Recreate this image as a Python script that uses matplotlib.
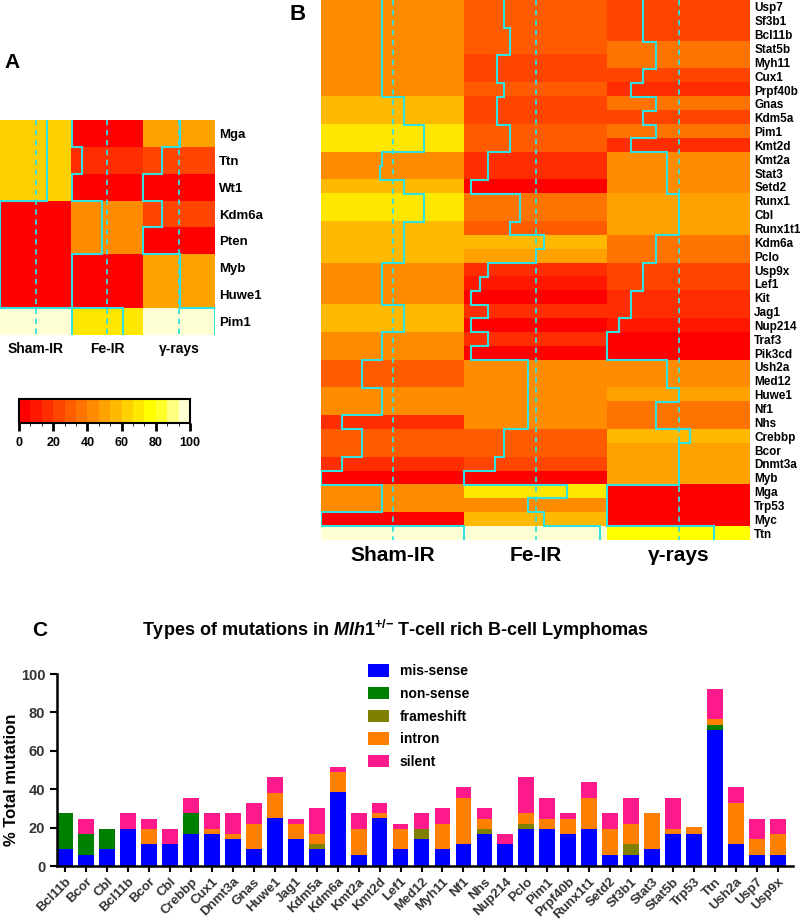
import numpy as np
import matplotlib
matplotlib.use('Agg')
import matplotlib.pyplot as plt
from matplotlib.colors import ListedColormap, BoundaryNorm, hsv_to_rgb
from matplotlib.cm import ScalarMappable
from matplotlib.patches import Patch

plt.rcParams['font.family'] = ['Liberation Sans', 'DejaVu Sans']
plt.rcParams['font.weight'] = 'bold'
plt.rcParams['mathtext.fontset'] = 'custom'
plt.rcParams['mathtext.rm'] = 'Liberation Sans:bold'
plt.rcParams['mathtext.it'] = 'Liberation Sans:italic:bold'
plt.rcParams['mathtext.bf'] = 'Liberation Sans:bold'

# ---- data ----
groups = ['Sham-IR', 'Fe-IR', 'γ-rays']

genes_a = ['Mga', 'Ttn', 'Wt1', 'Kdm6a', 'Pten', 'Myb', 'Huwe1', 'Pim1']
sham_a = [66, 66, 66, 0, 0, 0, 0, 100]
fe_a = [0, 15, 0, 43, 43, 0, 0, 72]
gamma_a = [51, 26, 0, 26, 0, 51, 51, 100]

genes_b = ['Usp7', 'Sf3b1', 'Bcl11b', 'Stat5b', 'Myh11', 'Cux1', 'Prpf40b',
           'Gnas', 'Kdm5a', 'Pim1', 'Kmt2d', 'Kmt2a', 'Stat3', 'Setd2',
           'Runx1', 'Cbl', 'Runx1t1', 'Kdm6a', 'Pclo', 'Usp9x', 'Lef1', 'Kit',
           'Jag1', 'Nup214', 'Traf3', 'Pik3cd', 'Ush2a', 'Med12', 'Huwe1',
           'Nf1', 'Nhs', 'Crebbp', 'Bcor', 'Dnmt3a', 'Myb', 'Mga', 'Trp53',
           'Myc', 'Ttn']
sham_b = [43, 43, 43, 43, 43, 43, 43, 58, 58, 72, 72, 43, 41, 58, 72, 72, 58,
          58, 58, 43, 43, 43, 58, 58, 43, 43, 29, 29, 43, 43, 15, 29, 29, 15,
          0, 43, 43, 0, 100]
fe_b = [28, 28, 32, 32, 23, 23, 28, 23, 23, 32, 32, 17, 17, 5, 39, 39, 32,
        56, 50, 17, 11, 5, 17, 5, 17, 5, 45, 45, 45, 45, 45, 28, 28, 22, 0,
        72, 45, 56, 95]
gamma_b = [25, 25, 25, 34, 34, 25, 16.5, 34, 25, 34, 16.5, 42, 42, 42, 50,
           50, 50, 34, 34, 25, 25, 16.5, 16.5, 8.4, 0, 0, 42, 42, 50, 34, 34,
           58, 50, 50, 50, 0, 0, 0, 75]

genes_c = ['Bcl11b', 'Bcor', 'Cbl', 'Bcl11b', 'Bcor', 'Cbl', 'Crebbp', 'Cux1',
           'Dnmt3a', 'Gnas', 'Huwe1', 'Jag1', 'Kdm5a', 'Kdm6a', 'Kmt2a',
           'Kmt2d', 'Lef1', 'Med12', 'Myh11', 'Nf1', 'Nhs', 'Nup214', 'Pclo',
           'Pim1', 'Prpf40b', 'Runx1t1', 'Setd2', 'Sf3b1', 'Stat3', 'Stat5b',
           'Trp53', 'Ttn', 'Ush2a', 'Usp7', 'Usp9x']
missense = [8.7, 5.7, 8.7, 19.4, 11.5, 11.5, 16.7, 16.7, 14, 8.7, 24.8, 14,
            8.7, 38.5, 5.7, 24.8, 8.7, 14, 8.7, 11.5, 16.7, 11.5, 19.4, 19.4,
            16.7, 19.4, 5.7, 5.7, 8.7, 16.7, 16.7, 71, 11.5, 5.7, 5.7]
nonsense = [18.7, 11, 10.7, 0, 0, 0, 10.7, 0, 0, 0, 0, 0, 0, 0, 0, 0, 0, 0,
            0, 0, 0, 0, 0, 0, 0, 0, 0, 0, 0, 0, 0, 2.4, 0, 0, 0]
frameshift = [0, 0, 0, 0, 0, 0, 0, 0, 0, 0, 0, 0, 2.8, 0, 0, 0, 0, 5.4, 0, 0,
              2.7, 0, 2.6, 0, 0, 0, 0, 5.8, 0, 0, 0, 0, 0, 0, 0]
intron = [0, 0, 0, 0, 7.9, 0, 0, 2.7, 2.7, 13.3, 13.4, 8, 5.2, 10.6, 13.7,
          2.6, 10.7, 0, 13.3, 24.1, 5.3, 0, 5.4, 5.3, 8, 16.2, 13.7, 10.5,
          18.7, 2.7, 3.8, 3, 21.5, 8.3, 11]
silent = [0, 8, 0, 8, 5.3, 7.9, 8.2, 8, 10.7, 11, 8.2, 2.7, 13.5, 2.6, 8,
          5.6, 2.6, 8, 8.2, 5.4, 5.5, 5.2, 19, 10.9, 2.7, 8.2, 8, 13.6, 0,
          16.2, 0, 16, 8, 10.7, 8]

# R heat.colors(15)
hues = list(np.linspace(0, 1/6, 12))
heat = [hsv_to_rgb((h, 1, 1)) for h in hues]
heat += [hsv_to_rgb((1/6, s, 1)) for s in (5/6, 1/2, 1/6)]
cmap = ListedColormap(heat)
norm = BoundaryNorm(np.linspace(0, 100, 16), cmap.N)
trace_col = '#33E0E0'

W, H = 800, 921
fig = plt.figure(figsize=(W / 100, H / 100), dpi=100)


def fax(x0, y0, x1, y1):
    return fig.add_axes([x0 / W, 1 - y1 / H, (x1 - x0) / W, (y1 - y0) / H])


def heatmap(ax, genes, cols, lab_size, grp_size, grp_pad):
    data = np.array(cols).T
    n = len(genes)
    ax.imshow(data, cmap=cmap, norm=norm, aspect='auto',
              extent=(0, 3, n, 0), interpolation='nearest')
    for c, vals in enumerate(cols):
        xs, ys = [], []
        for i, v in enumerate(vals):
            x = c + v / 100
            xs += [x, x]
            ys += [i, i + 1]
        ax.plot(xs, ys, color=trace_col, lw=1.5, solid_joinstyle='miter')
        ax.plot([c + 0.5, c + 0.5], [0, n], color=trace_col, lw=1.3,
                ls=(0, (3, 2.5)))
    ax.set_xlim(0, 3)
    ax.set_ylim(n, 0)
    for s in ax.spines.values():
        s.set_visible(False)
    ax.yaxis.tick_right()
    ax.set_yticks(np.arange(n) + 0.5)
    ax.set_yticklabels(genes, fontsize=lab_size, fontweight='bold')
    ax.set_xticks([0.5, 1.5, 2.5])
    ax.set_xticklabels(groups, fontsize=grp_size, fontweight='bold')
    ax.tick_params(length=0, pad=3)
    ax.tick_params(axis='x', pad=grp_pad)


# panel A
axA = fax(0, 120, 215, 335)
heatmap(axA, genes_a, [sham_a, fe_a, gamma_a], 9.5, 10, 5)

cax = fax(19, 399, 190, 423)
cb = fig.colorbar(ScalarMappable(norm=norm, cmap=cmap), cax=cax,
                  orientation='horizontal', ticks=[0, 20, 40, 60, 80, 100])
cb.outline.set_linewidth(1.5)
cax.tick_params(length=6, width=2, labelsize=9, pad=4)
for t in cax.get_xticklabels():
    t.set_fontweight('bold')

# panel B
axB = fax(321, 0, 750, 540)
heatmap(axB, genes_b, [sham_b, fe_b, gamma_b], 8.5, 15, 4)

# panel C
axC = fax(57, 674, 793, 866)
x = np.arange(len(genes_c))
layers = [(missense, '#0000FF', 'mis-sense'),
          (nonsense, '#008000', 'non-sense'),
          (frameshift, '#808000', 'frameshift'),
          (intron, '#FF8000', 'intron'),
          (silent, '#FF1A8C', 'silent')]
bottom = np.zeros(len(genes_c))
handles = []
for vals, col, lab in layers:
    vals = np.array(vals)
    axC.bar(x, vals, bottom=bottom, width=0.75, color=col, linewidth=0)
    bottom += vals
    handles.append(Patch(facecolor=col, label=lab))

axC.set_xlim(-0.4, len(genes_c) - 1 + 0.73)
axC.set_ylim(0, 100)
axC.set_yticks([0, 20, 40, 60, 80, 100])
axC.set_xticks(x)
axC.set_xticklabels(genes_c, rotation=45, ha='right', rotation_mode='anchor',
                    fontsize=9.5, fontweight='bold', color='#333333')
for t in axC.get_yticklabels():
    t.set_fontweight('bold')
axC.tick_params(axis='y', labelsize=10.5, labelcolor='#333333', width=1.5,
                length=5)
axC.tick_params(axis='x', width=1.5, length=4, pad=3)
for s in ['top', 'right']:
    axC.spines[s].set_visible(False)
for s in ['left', 'bottom']:
    axC.spines[s].set_linewidth(1.8)
axC.set_ylabel('% Total mutation', fontsize=12, fontweight='bold')
axC.yaxis.set_label_coords(-0.052, 0.45)
axC.legend(handles=handles, loc='upper left', bbox_to_anchor=(0.4226, 1.05),
           frameon=False, handlelength=1.5, handleheight=1.0,
           handletextpad=0.8, labelspacing=0.62, borderpad=0,
           borderaxespad=0, prop={'weight': 'bold', 'size': 10})

fig.text(0.495, 1 - 630 / H,
         r'Types of mutations in $\mathit{Mlh1}^{+/{-}}$ T-cell rich B-cell Lymphomas',
         ha='center', va='center', fontsize=13, fontweight='bold')

fig.text(12 / W, 1 - 62 / H, 'A', fontsize=15, fontweight='bold',
         ha='center', va='center')
fig.text(298 / W, 1 - 15 / H, 'B', fontsize=16, fontweight='bold',
         ha='center', va='center')
fig.text(40 / W, 1 - 631 / H, 'C', fontsize=15, fontweight='bold',
         ha='center', va='center')

fig.savefig('out.png', dpi=100)
